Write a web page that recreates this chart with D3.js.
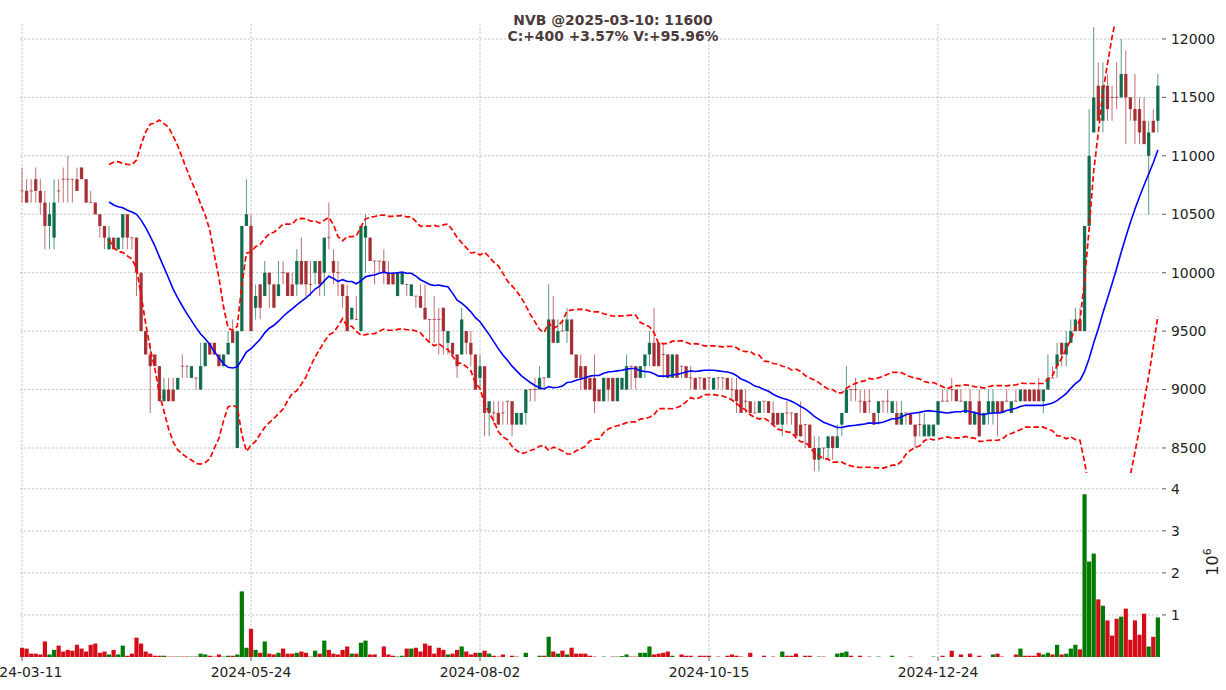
<!DOCTYPE html>
<html><head><meta charset="utf-8">
<script src="https://cdn.jsdelivr.net/npm/d3@7"></script>
<style>body{margin:0;background:#fff}svg{display:block;font-family:"DejaVu Sans",sans-serif}</style>
</head><body><svg id="c" width="1226" height="690"></svg>
<script>
// ---- data ----
const tickIdx = [0, 50, 100, 150, 200];
const tickLabels = ["2024-03-11", "2024-05-24", "2024-08-02", "2024-10-15", "2024-12-24"];
const priceTicks = [8500, 9000, 9500, 10000, 10500, 11000, 11500, 12000];
const volTicks = [1e6, 2e6, 3e6, 4e6];
const volTickLabels = ["1", "2", "3", "4"];
const titleLines = ["NVB @2025-03-10: 11600", "C:+400 +3.57% V:+95.96%"];

const opens = [10700,10700,10700,10800,10700,10600,10400,10300,10700,10800,10800,10800,10800,10900,10800,10600,10600,10500,10400,10200,10300,10200,10300,10500,10300,10300,10000,9500,9300,9300,9200,8900,9000,9000,9000,9200,9200,9100,9100,9000,9200,9400,9400,9300,9200,9300,9500,8500,9500,10400,10400,9700,9900,9800,10000,9900,9800,10000,10000,9900,9900,10100,10100,9900,10000,10100,10000,10300,10100,10000,9900,9800,9600,9600,9500,10300,10300,10100,10100,10100,10000,10000,9800,9900,9900,9800,9800,9800,9700,9600,9600,9600,9700,9400,9400,9300,9300,9500,9400,9300,9100,9200,8800,8800,8800,8800,8900,8900,8700,8700,8800,9000,9000,9000,9100,9100,9600,9400,9500,9500,9600,9300,9200,9200,9100,9100,9000,8900,9100,9100,8900,9000,9000,9200,9200,9100,9200,9300,9400,9400,9300,9300,9100,9300,9200,9200,9100,9100,9100,9100,9100,9000,9100,9100,9100,9000,9000,9000,8900,8900,8800,8800,8900,8900,8800,8800,8700,8800,8800,8800,8700,8700,8700,8500,8400,8500,8500,8600,8500,8700,8800,9000,9000,8900,8900,8900,8800,8800,8900,8900,8800,8800,8700,8800,8800,8700,8700,8600,8600,8600,8700,8900,8900,9000,9000,8900,8800,8900,8700,8900,8700,8800,8800,8900,8900,8900,8800,8900,8900,9000,9000,9000,9000,8900,9000,9100,9200,9400,9300,9400,9500,9600,9500,10400,11200,11600,11300,11600,11500,11500,11500,11700,11500,11400,11400,11300,11000,11300,11300];
const highs = [10900,10800,10800,10900,10800,10700,10600,10800,10800,10900,11000,10800,10900,10900,10800,10700,10600,10500,10400,10400,10300,10300,10500,10500,10300,10300,10000,9500,9400,9300,9200,9100,9100,9100,9100,9300,9200,9200,9100,9400,9400,9400,9400,9300,9300,9500,9600,9500,10400,10800,10500,9900,9900,10100,10000,9900,10100,10100,10000,10000,10200,10300,10100,10100,10100,10100,10300,10600,10200,10100,9900,9900,9700,9800,10400,10500,10300,10100,10100,10200,10100,10000,10000,10000,9900,9900,9800,9900,9900,9600,9800,9700,9700,9500,9400,9300,9700,9500,9500,9300,9300,9200,8900,8900,8900,8900,8900,8900,8800,8800,9000,9000,9100,9200,9100,9900,9800,9600,9600,9700,9600,9300,9300,9200,9100,9300,9000,9100,9100,9100,9100,9100,9300,9200,9200,9200,9300,9500,9700,9400,9400,9300,9300,9300,9200,9200,9200,9100,9100,9100,9100,9100,9100,9100,9100,9100,9100,9000,9000,8900,8900,8900,8900,8900,8900,8800,8800,8900,8800,8800,8900,8700,8700,8600,8600,8500,8600,8600,8700,8800,9200,9000,9100,9000,9000,9000,8800,8900,8900,9000,8900,8900,8900,8800,8800,8700,8800,8800,8700,8700,8900,9000,9000,9100,9000,9000,8900,9000,8800,9000,8800,9000,9000,8900,8900,9000,8900,9000,9000,9000,9000,9000,9100,9000,9300,9200,9400,9400,9500,9600,9700,9700,10400,11400,12100,11800,11800,11700,11600,11800,12000,11900,11500,11700,11500,11500,11300,11400,11700];
const lows = [10600,10600,10600,10600,10500,10200,10200,10200,10600,10600,10600,10600,10700,10800,10600,10600,10500,10300,10200,10200,10200,10200,10200,10200,10200,9800,9500,9300,8800,9200,8900,8900,8900,8900,9000,9100,9100,9100,9000,9000,9200,9300,9300,9200,9200,9300,9400,8500,9500,10400,9500,9600,9600,9800,9700,9700,9800,9900,9800,9800,9800,9900,9800,9800,9900,9800,9800,10200,9900,9800,9700,9500,9600,9600,9500,10000,10100,9900,10000,9900,9900,9900,9800,9900,9800,9800,9700,9700,9600,9400,9400,9300,9300,9300,9300,9100,9300,9300,9200,9000,9000,8600,8600,8700,8700,8700,8700,8600,8700,8700,8700,8900,8900,9000,9000,9100,9400,9400,9500,9400,9300,9100,9000,9000,9000,8800,8900,8900,8900,8900,8900,9000,9000,9000,9000,9100,9100,9200,9200,9200,9100,9100,9100,9100,9100,9100,9000,9000,9000,9000,9000,9000,9000,9000,9000,8900,8800,8800,8800,8800,8800,8800,8800,8800,8700,8700,8600,8700,8700,8600,8600,8500,8500,8300,8300,8400,8400,8400,8500,8600,8800,8900,8900,8800,8800,8800,8700,8700,8800,8800,8800,8700,8700,8700,8700,8500,8600,8600,8600,8600,8700,8900,8900,8900,8900,8900,8800,8700,8700,8600,8700,8700,8700,8600,8800,8900,8800,8900,8900,8900,8900,8900,8900,8800,9000,9100,9100,9200,9200,9400,9500,9500,9500,10400,11200,11300,11200,11300,11300,11400,11500,11100,11300,11100,11100,11100,10500,11200,11200];
const closes = [10700,10600,10700,10700,10600,10400,10500,10600,10700,10800,10800,10800,10700,10800,10600,10600,10500,10400,10300,10300,10200,10300,10500,10300,10300,10000,9500,9300,9200,9200,8900,9000,8900,8900,9100,9200,9200,9200,9100,9200,9400,9300,9300,9200,9300,9400,9400,9500,10400,10500,9500,9800,9700,10000,9900,9700,9900,10000,9800,9800,10100,9900,9900,9900,10100,9900,10300,10300,10000,10000,9800,9500,9700,9600,10400,10400,10100,10100,10100,10000,9900,9900,10000,10000,9900,9900,9800,9700,9600,9600,9600,9600,9500,9500,9300,9200,9600,9400,9300,9000,9200,8800,8900,8800,8700,8800,8900,8700,8800,8800,9000,9000,9000,9100,9100,9600,9400,9500,9500,9600,9300,9100,9100,9000,9000,8900,8900,9100,9000,8900,9100,9100,9200,9200,9100,9200,9300,9400,9200,9200,9300,9100,9300,9100,9200,9100,9100,9000,9100,9000,9100,9100,9100,9100,9000,9000,8900,8800,8900,8800,8800,8900,8900,8800,8700,8700,8800,8800,8800,8600,8600,8700,8500,8400,8500,8500,8600,8500,8600,8800,9000,9000,9000,8900,8800,8900,8700,8900,8900,8900,8900,8700,8800,8800,8700,8600,8700,8700,8700,8700,8900,8900,8900,9000,8900,8900,8900,8700,8800,8600,8800,8900,8900,8800,8800,8900,8900,8900,9000,8900,8900,8900,8900,9000,9100,9100,9300,9300,9400,9500,9600,9500,10400,11000,11500,11300,11600,11400,11500,11500,11700,11500,11400,11300,11200,11100,11200,11200,11600];
const volumes = [220000,200000,80000,80000,60000,370000,60000,170000,270000,130000,170000,150000,290000,200000,130000,290000,320000,100000,130000,60000,170000,60000,270000,30000,80000,460000,320000,130000,80000,30000,30000,30000,10000,10000,10000,10000,10000,10000,10000,80000,60000,30000,10000,60000,10000,30000,30000,60000,1560000,220000,670000,170000,100000,370000,80000,60000,100000,200000,80000,80000,100000,130000,100000,10000,150000,80000,390000,170000,80000,60000,170000,250000,80000,80000,340000,390000,60000,60000,0,250000,60000,30000,10000,30000,200000,200000,220000,130000,320000,270000,80000,220000,170000,60000,80000,170000,250000,130000,60000,100000,100000,150000,80000,30000,10000,60000,0,30000,10000,0,100000,0,0,30000,30000,480000,130000,80000,150000,60000,220000,80000,80000,80000,30000,10000,0,10000,0,10000,10000,20000,60000,10000,10000,100000,100000,250000,60000,80000,100000,130000,30000,0,60000,30000,30000,0,30000,30000,30000,0,10000,0,30000,60000,30000,10000,0,100000,0,0,30000,0,10000,0,130000,30000,30000,80000,0,30000,30000,0,10000,10000,0,0,80000,100000,130000,30000,0,30000,0,10000,0,10000,0,0,30000,0,0,0,10000,0,0,0,0,10000,0,30000,0,150000,0,60000,0,80000,0,30000,0,0,60000,80000,10000,0,0,60000,200000,30000,30000,30000,100000,60000,100000,60000,290000,60000,80000,200000,290000,180000,3870000,2270000,2460000,1370000,1220000,870000,510000,910000,960000,1150000,410000,870000,530000,1030000,250000,480000,940600];

// ---- layout ----
const N = closes.length;
const L = 20, R = 1160, PT = 24, PB = 473, VT = 478, VB = 657;
const x = d3.scaleLinear().domain([-0.437, 248.47]).range([L, R]);
const y = d3.scaleLinear().domain([8286, 12128]).range([PB, PT]);
const yv = d3.scaleLinear().domain([0, 1.1 * d3.max(volumes)]).range([VB, VT]);

const UP = "#006340", DN = "#a02128", VUP = "#007a00", VDN = "#d50d18";
const GRID = "#b0b0b0";
const svg = d3.select("#c");
const defs = svg.append("defs");
defs.append("clipPath").attr("id", "pc").append("rect").attr("x", L).attr("y", PT).attr("width", R - L).attr("height", PB - PT);
defs.append("clipPath").attr("id", "vc").append("rect").attr("x", L).attr("y", VT).attr("width", R - L).attr("height", VB - VT);

// grid
const g = svg.append("g").attr("stroke", GRID).attr("stroke-width", 0.7).attr("stroke-dasharray", "2.4,1.6").attr("fill", "none");
g.selectAll(".hp").data(priceTicks).join("line").attr("x1", L).attr("x2", R).attr("y1", d => y(d)).attr("y2", d => y(d));
g.selectAll(".hv").data(volTicks).join("line").attr("x1", L).attr("x2", R).attr("y1", d => yv(d)).attr("y2", d => yv(d));
g.selectAll(".vg").data(tickIdx).join("line").attr("x1", d => x(d)).attr("x2", d => x(d)).attr("y1", PT).attr("y2", VB);

// candles
const bars = d3.range(N).map(i => ({i, o: opens[i], h: highs[i], l: lows[i], c: closes[i], v: volumes[i]}));
const isUp = d => d.c > d.o;
const cg = svg.append("g").attr("clip-path", "url(#pc)");
cg.selectAll(".wick").data(bars).join("line")
  .attr("x1", d => x(d.i)).attr("x2", d => x(d.i))
  .attr("y1", d => y(d.h)).attr("y2", d => y(d.l))
  .attr("stroke", d => isUp(d) ? UP : DN).attr("stroke-width", 1).attr("stroke-opacity", 0.65);
const bw = 3.3;
cg.selectAll(".body").data(bars).join("rect")
  .attr("x", d => x(d.i) - bw / 2).attr("width", bw)
  .attr("y", d => d.o === d.c ? y(d.o) - 0.5 : y(Math.max(d.o, d.c)))
  .attr("height", d => d.o === d.c ? 1 : Math.abs(y(d.o) - y(d.c)))
  .attr("fill", d => isUp(d) ? UP : DN).attr("fill-opacity", d => d.o === d.c ? 0.7 : 0.9);

// moving average + bollinger bands
const ma = [], ub = [], lb = [];
for (let i = 19; i < N; i++) {
  const w = closes.slice(i - 19, i + 1);
  const m = d3.mean(w), s = d3.deviation(w);
  ma.push([i, m]); ub.push([i, m + 2 * s]); lb.push([i, m - 2 * s]);
}
const line = d3.line().x(d => x(d[0])).y(d => y(d[1]));
const lg = svg.append("g").attr("clip-path", "url(#pc)").attr("fill", "none");
lg.append("path").attr("d", line(ma)).attr("stroke", "#0000ff").attr("stroke-width", 1.6);
[ub, lb].forEach(b => lg.append("path").attr("d", line(b)).attr("stroke", "#ff0000")
  .attr("stroke-width", 1.7).attr("stroke-dasharray", "5.6,2.8"));

// volume
const vw = 4.2;
svg.append("g").attr("clip-path", "url(#vc)").selectAll("rect").data(bars.filter(d => d.v > 0)).join("rect")
  .attr("x", d => x(d.i) - vw / 2).attr("width", vw)
  .attr("y", d => yv(d.v)).attr("height", d => Math.max(0.8, VB - yv(d.v)))
  .attr("fill", d => isUp(d) ? VUP : VDN);

// axes text
const FS = 13.9, TC = "#222";
const ax = svg.append("g").attr("font-size", FS).attr("fill", TC);
const tk = svg.append("g").attr("stroke", "#333").attr("stroke-width", 0.8);
tk.selectAll(".pt").data(priceTicks).join("line").attr("x1", R + 2).attr("x2", R + 6).attr("y1", d => y(d)).attr("y2", d => y(d));
tk.selectAll(".vt").data(volTicks).join("line").attr("x1", R + 2).attr("x2", R + 6).attr("y1", d => yv(d)).attr("y2", d => yv(d));
tk.selectAll(".xt").data(tickIdx).join("line").attr("x1", d => x(d)).attr("x2", d => x(d)).attr("y1", VB).attr("y2", VB + 4);
ax.selectAll(".pl").data(priceTicks).join("text").attr("x", R + 11).attr("y", d => y(d)).attr("dy", "0.35em").text(d => d);
ax.selectAll(".vl").data(volTicks).join("text").attr("x", R + 11).attr("y", d => yv(d)).attr("dy", "0.35em").text((d, i) => volTickLabels[i]);
ax.selectAll(".xl").data(tickIdx).join("text").attr("x", d => x(d)).attr("y", 677).attr("text-anchor", "middle").text((d, i) => tickLabels[i]);
const ol = svg.append("text").attr("transform", "translate(1218,562) rotate(-90)").attr("text-anchor", "middle").attr("fill", TC).attr("font-size", 16);
ol.append("tspan").text("10");
ol.append("tspan").attr("font-size", 11).attr("dy", "-0.6em").text("6");

// title
svg.append("g").attr("font-weight", "bold").attr("font-size", FS).attr("fill", "#4b3b3b").attr("text-anchor", "middle")
  .selectAll("text").data(titleLines).join("text").attr("x", 613).attr("y", (d, i) => 25 + i * 16).text(d => d);
</script></body></html>
